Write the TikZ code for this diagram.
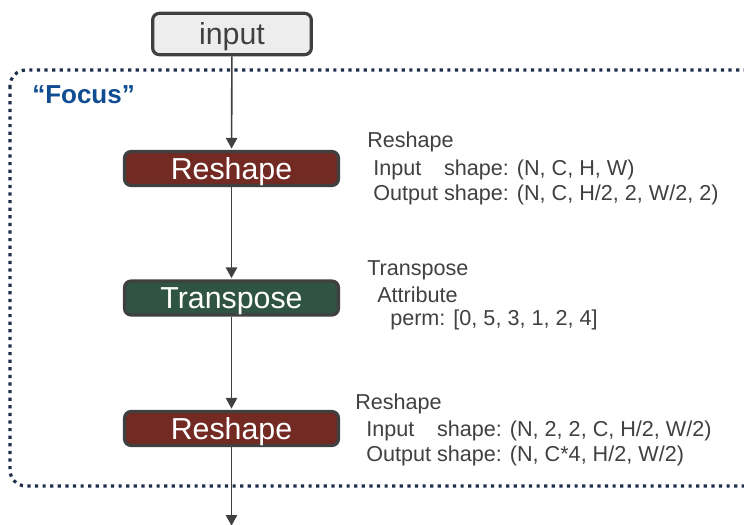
\documentclass[tikz,border=0pt]{standalone}
\usepackage{fontspec}
\setmainfont{Liberation Sans}
\usetikzlibrary{arrows.meta}

\definecolor{boxline}{HTML}{404040}
\definecolor{reshapefill}{HTML}{722A23}
\definecolor{transfill}{HTML}{2F5443}
\definecolor{inputfill}{HTML}{EDEDED}
\definecolor{focusblue}{HTML}{0F4C92}
\definecolor{dotnavy}{HTML}{1F2E4A}
\definecolor{notegray}{HTML}{404040}

\begin{document}
\begin{tikzpicture}[x=0.75pt,y=-0.75pt,
  opbox/.style={draw=boxline, line width=2.4pt, rounded corners=5pt,
    minimum width=160.5pt, minimum height=25.5pt, inner sep=0pt,
    font=\fontsize{22.75pt}{25pt}\selectfont, text=white,
    text height=16.2pt, text depth=0pt},
  reshapebox/.style={opbox, fill=reshapefill},
  transbox/.style={opbox, fill=transfill},
  inputbox/.style={opbox, fill=inputfill, text=boxline,
    minimum width=119pt, minimum height=31pt},
  flow/.style={draw=boxline, line width=1.2pt,
    -{Triangle[length=8pt,width=8.5pt]}, shorten >=1pt},
  note/.style={anchor=base west, inner sep=0pt,
    font=\fontsize{16.2pt}{19pt}\selectfont, text=notegray},
  focusframe/.style={draw=dotnavy, line width=2.4pt,
    dash pattern=on 2.4pt off 3.3pt, rounded corners=12pt},
  focuslabel/.style={anchor=base west, inner sep=0pt,
    font=\bfseries\fontsize{19.5pt}{22pt}\selectfont, text=focusblue}
]
\useasboundingbox (0,0) rectangle (744,525);
\clip (0,0) rectangle (744,525);

% dotted frame around the focused subgraph (runs past the right edge)
\draw[focusframe] (10,70) rectangle (775,486);
\node[focuslabel] (focus) at (32,103) {“Focus”};

% operator nodes
\node[inputbox]   (in) at (232,34)    {input};
\node[reshapebox] (r1) at (231.5,168.5) {Reshape};
\node[transbox]   (tp) at (231.5,298) {Transpose};
\node[reshapebox] (r2) at (231.5,428.5) {Reshape};
\coordinate (out) at (231.5,527);

% data flow
\draw[flow] (in) -- (r1);
\draw[flow] (r1) -- (tp);
\draw[flow] (tp) -- (r2);
\draw[flow] (r2) -- (out);

% operator attributes
\node[note] (r1a) at (367,147) {Reshape};
\node[note] (r1b) at (373,175) {\rlap{Input}\phantom{Output} shape: (N, C, H, W)};
\node[note] (r1c) at (373,200) {Output shape: (N, C, H/2, 2, W/2, 2)};

\node[note] (tpa) at (367,275) {Transpose};
\node[note] (tpb) at (377,302) {Attribute};
\node[note] (tpc) at (390,325) {perm: [0, 5, 3, 1, 2, 4]};

\node[note] (r2a) at (355,409) {Reshape};
\node[note] (r2b) at (366,436) {\rlap{Input}\phantom{Output} shape: (N, 2, 2, C, H/2, W/2)};
\node[note] (r2c) at (366,461) {Output shape: (N, C*4, H/2, W/2)};
\end{tikzpicture}
\end{document}
